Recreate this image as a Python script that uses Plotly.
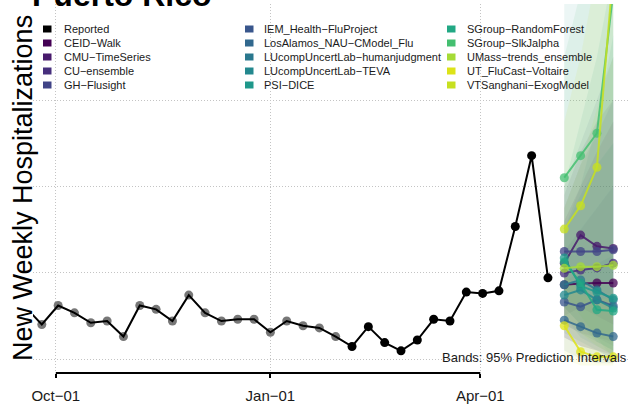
import plotly.graph_objects as go

# ---------------- data ----------------
reported_dates = [
    "2021-09-18", "2021-09-25", "2021-10-02", "2021-10-09", "2021-10-16", "2021-10-23",
    "2021-10-30", "2021-11-06", "2021-11-13", "2021-11-20", "2021-11-27", "2021-12-04",
    "2021-12-11", "2021-12-18", "2021-12-25", "2022-01-01", "2022-01-08", "2022-01-15",
    "2022-01-22", "2022-01-29", "2022-02-05", "2022-02-12", "2022-02-19", "2022-02-26",
    "2022-03-05", "2022-03-12", "2022-03-19", "2022-03-26", "2022-04-02", "2022-04-09",
    "2022-04-16", "2022-04-23", "2022-04-30",
]
reported_values = [
    12.0, 8.0, 12.4, 10.7, 8.4, 8.8, 5.2, 12.4, 11.5, 8.8, 14.8, 10.7,
    8.8, 9.2, 9.2, 6.2, 8.8, 7.7, 7.2, 5.2, 2.9, 7.5, 3.8, 1.9,
    4.4, 9.2, 8.8, 15.5, 15.2, 15.8, 30.7, 47.1, 18.8,
]
reported_grey_until = "2022-01-29"

forecast_dates = ["2022-05-07", "2022-05-14", "2022-05-21", "2022-05-28"]

models = [
    "CEID\u2212Walk", "CMU\u2212TimeSeries", "CU\u2212ensemble", "GH\u2212Flusight",
    "IEM_Health\u2212FluProject", "LosAlamos_NAU\u2212CModel_Flu",
    "LUcompUncertLab\u2212humanjudgment", "LUcompUncertLab\u2212TEVA", "PSI\u2212DICE",
    "SGroup\u2212RandomForest", "SGroup\u2212SlkJalpha", "UMass\u2212trends_ensemble",
    "UT_FluCast\u2212Voltaire", "VTSanghani\u2212ExogModel",
]
model_colors = [
    "#440154", "#481A6C", "#472F7D", "#414487", "#39568C", "#31688E", "#2A788E",
    "#23888E", "#1F988B", "#22A884", "#44BF70", "#A5DB36", "#DDE318", "#C7E020",
]
median_values = [
    [17.2, 17.5, 17.6, 17.6],
    [22.2, 28.7, 26.1, 25.6],
    [19.9, 20.6, 21.1, 22.2],
    [24.9, 24.9, 24.9, 25.3],
    [13.2, 12.1, 13.7, 12.3],
    [9.0, 7.5, 6.0, 5.2],
    [17.2, 18.3, 16.0, 13.7],
    [14.8, 16.0, 13.7, 11.8],
    [23.4, 16.9, 15.5, 14.1],
    [22.5, 17.6, 11.4, 11.1],
    [42.0, 47.1, 52.3, 85.0],
    [21.0, 21.4, 21.4, 21.7],
    [7.7, 1.7, 0.5, 0.5],
    [30.1, 35.5, 44.4, 90.0],
]
lower_values = [
    [5, 3, 2, 1],
    [10, 12, 10, 8],
    [8, 6, 5, 4],
    [12, 8, 5, 3],
    [5, 3, 2, 0],
    [2, 0, -1, -1],
    [8, 6, 4, 2],
    [6, 4, 2, 0],
    [10, 5, 3, 1],
    [12, 8, 4, 2],
    [15, 10, 5, 0],
    [10, 6, 3, 1],
    [0, -1.5, -1.5, -1.5],
    [8, 3, 0, -1],
]
upper_values = [
    [32, 40, 48, 55],
    [38, 48, 55, 60],
    [35, 45, 52, 60],
    [40, 50, 60, 70],
    [25, 30, 35, 40],
    [18, 20, 22, 24],
    [30, 38, 45, 50],
    [30, 40, 55, 75],
    [90, 95, 110, 130],
    [40, 55, 70, 90],
    [70, 85, 100, 140],
    [35, 45, 58, 70],
    [20, 15, 14, 14],
    [55, 70, 90, 150],
]
x_tick_vals = ["2021-10-01", "2022-01-01", "2022-04-01"]
x_tick_text = ["Oct\u221201", "Jan\u221201", "Apr\u221201"]
y_grid_vals = [0, 20, 40, 60]

# ---------------- layout constants ----------------
W, H = 630, 409
ML, MR, MT, MB = 33, 0, 4, 36
PW, PH = W - ML - MR, H - MT - MB
FONT = "Liberation Sans, Arial, Helvetica, sans-serif"


def px(x):
    return (x - ML) / PW


def py(y):
    return (H - MB - y) / PH


def rgba(hex_color, a):
    h = hex_color.lstrip("#")
    r, g, b = int(h[0:2], 16), int(h[2:4], 16), int(h[4:6], 16)
    return f"rgba({r},{g},{b},{a})"


fig = go.Figure()

# prediction bands
for name, col, lo, up in zip(models, model_colors, lower_values, upper_values):
    fig.add_trace(go.Scatter(
        x=forecast_dates + forecast_dates[::-1],
        y=up + lo[::-1],
        fill="toself", fillcolor=rgba(col, 0.085),
        line=dict(width=0), mode="lines", hoverinfo="skip", showlegend=False,
    ))

# median forecasts
for name, col, med in zip(models, model_colors, median_values):
    fig.add_trace(go.Scatter(
        x=forecast_dates, y=med, mode="lines+markers", name=name,
        line=dict(color=rgba(col, 0.85), width=2),
        marker=dict(size=9, color=rgba(col, 0.75)),
        showlegend=False,
    ))

# reported
grey_x = [d for d in reported_dates if d <= reported_grey_until]
grey_y = [v for d, v in zip(reported_dates, reported_values) if d <= reported_grey_until]
black_x = [d for d in reported_dates if d > reported_grey_until]
black_y = [v for d, v in zip(reported_dates, reported_values) if d > reported_grey_until]

fig.add_trace(go.Scatter(x=grey_x, y=grey_y, mode="markers",
                         marker=dict(size=9, color="#777777"), showlegend=False))
fig.add_trace(go.Scatter(x=reported_dates, y=reported_values, mode="lines",
                         line=dict(color="black", width=2), showlegend=False))
fig.add_trace(go.Scatter(x=black_x, y=black_y, mode="markers",
                         marker=dict(size=9, color="black"), showlegend=False))

# ---------------- annotations / legend ----------------
annotations = []
shapes = []

legend_names = ["Reported"] + models
legend_colors = ["#000000"] + model_colors
col_sq_x = [43, 245, 447]
col_txt_x = [62, 262, 465]
row_y = [29, 43, 57, 71, 85]
for i, (nm, c) in enumerate(zip(legend_names, legend_colors)):
    ci, ri = i // 5, i % 5
    shapes.append(dict(type="rect", xref="paper", yref="paper",
                       x0=px(col_sq_x[ci]), x1=px(col_sq_x[ci] + 8.5),
                       y0=py(row_y[ri] + 3.5), y1=py(row_y[ri] - 3.5),
                       fillcolor=c, line=dict(width=0), layer="above"))
    annotations.append(dict(xref="paper", yref="paper", x=px(col_txt_x[ci]), y=py(row_y[ri]),
                            xanchor="left", yanchor="middle", showarrow=False, text=nm,
                            font=dict(family=FONT, size=11, color="#1a1a1a")))

# capped x-axis line
shapes.append(dict(type="line", xref="x", yref="paper", x0=x_tick_vals[0], x1=x_tick_vals[-1],
                   y0=0, y1=0, line=dict(color="black", width=2), layer="above"))

annotations.append(dict(xref="paper", yref="paper", x=px(629), y=py(357.5),
                        xanchor="right", yanchor="middle", showarrow=False,
                        text="Bands: 95% Prediction Intervals",
                        font=dict(family=FONT, size=13, color="#1a1a1a")))

annotations.append(dict(xref="paper", yref="paper", x=px(22.5), y=py(188.5),
                        xanchor="center", yanchor="middle", showarrow=False, textangle=-90,
                        text="New Weekly Hospitalizations",
                        font=dict(family=FONT, size=27, color="black")))

annotations.append(dict(xref="paper", yref="paper", x=px(30), y=py(-5.5),
                        xanchor="left", yanchor="middle", showarrow=False,
                        text="<b>Puerto Rico</b>",
                        font=dict(family=FONT, size=32, color="black")))

grid_kw = dict(showgrid=True, gridcolor="#c4c4c4", gridwidth=1, griddash="1px,2px", zeroline=False)

fig.update_layout(
    width=W, height=H, autosize=False,
    margin=dict(l=ML, r=MR, t=MT, b=MB, pad=0),
    paper_bgcolor="white", plot_bgcolor="white",
    showlegend=False, hovermode=False,
    font=dict(family=FONT),
    annotations=annotations, shapes=shapes,
    xaxis=dict(type="date", range=["2021-09-21 05:17", "2022-06-04 04:20"],
               tickmode="array", tickvals=x_tick_vals, ticktext=x_tick_text,
               ticks="outside", ticklen=4, tickwidth=2, tickcolor="black",
               ticklabelstandoff=5,
               tickfont=dict(family=FONT, size=15, color="#1a1a1a"),
               showline=False, **grid_kw),
    yaxis=dict(range=[-3.24, 82.24], tickmode="array", tickvals=y_grid_vals,
               showticklabels=False, ticks="", showline=False, **grid_kw),
)

fig.write_html(
    "out.html",
    config={"displayModeBar": False, "staticPlot": True},
    post_script="document.body.style.margin='0';document.body.style.overflow='hidden';",
)
